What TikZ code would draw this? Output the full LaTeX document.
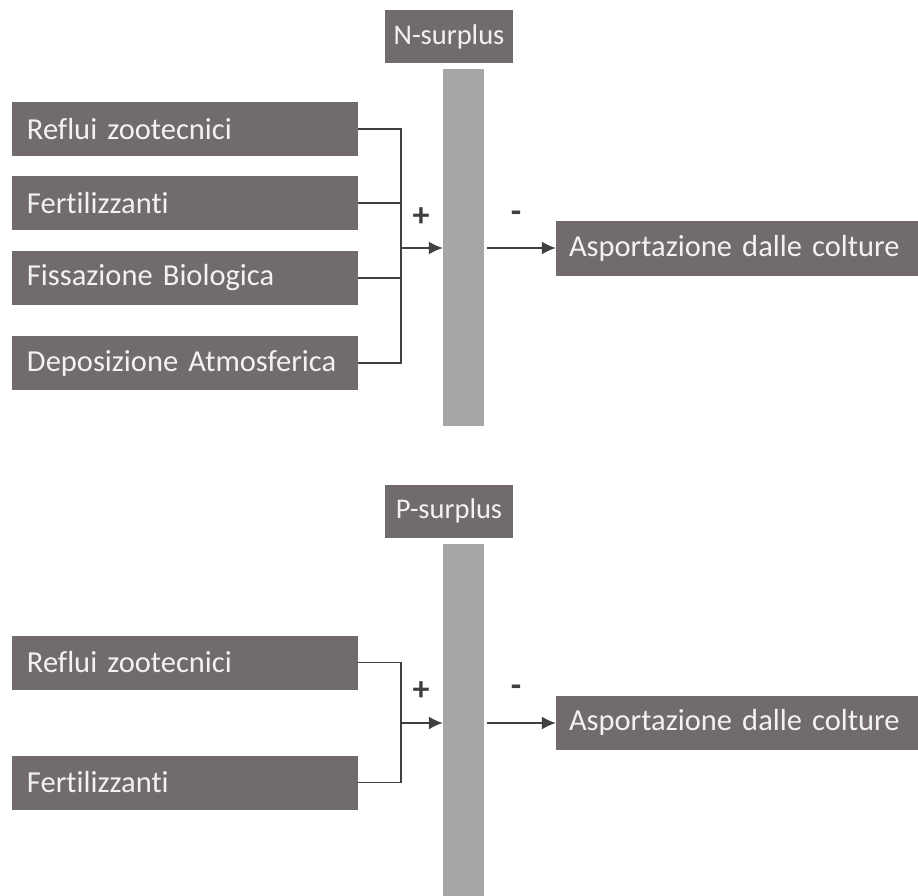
\documentclass[tikz,border=0pt]{standalone}
\usepackage{fontspec}
\setmainfont{Carlito}[WordSpace=1.25,Ligatures=NoCommon]
\usetikzlibrary{arrows.meta}

\definecolor{boxgray}{HTML}{716B6B}
\definecolor{bargray}{HTML}{A6A6A6}
\definecolor{linegray}{HTML}{404040}

\begin{document}
\begin{tikzpicture}[x=1pt,y=-1pt,
inbox/.style={rectangle,fill=boxgray,text=white!95!black,font=\fontsize{30.5}{34}\selectfont,
  minimum height=54pt,inner xsep=15pt,text width=316pt,align=left},
outbox/.style={inbox,text width=336pt,inner xsep=13pt},
surbox/.style={rectangle,fill=boxgray,text=white!95!black,font=\fontsize{28.5}{32}\selectfont,
  minimum width=128pt,minimum height=53pt},
bar/.style={rectangle,fill=bargray,minimum width=41pt},
sign/.style={font=\fontsize{34}{38}\selectfont\bfseries,text=linegray},
conn/.style={draw=linegray,line width=1.5pt},
flow/.style={conn,-{Latex[length=14pt,width=13pt]}}
]
\useasboundingbox (0,0) rectangle (918,896);

% N-surplus
\node[surbox] (nsur) at (449,37) {N-surplus};
\node[bar,minimum height=357pt] (nbar) at (463.5,247.5) {};
\node[inbox] (rn1) at (185,129) {Reflui zootecnici};
\node[inbox] (rn2) at (185,203) {Fertilizzanti};
\node[inbox] (rn3) at (185,278) {Fissazione Biologica};
\node[inbox] (rn4) at (185,363) {Deposizione Atmosferica};
\node[outbox] (nout) at (737,248.5) {Asportazione dalle colture};
\coordinate (nj) at (401,248);
\draw[conn] (rn1.east) -- (rn1.east -| nj) -- (rn4.east -| nj) -- (rn4.east);
\draw[conn] (rn2.east) -- (rn2.east -| nj);
\draw[conn] (rn3.east) -- (rn3.east -| nj);
\draw[flow] (nj) -- (nbar.west |- nj);
\draw[flow] ([xshift=3pt]nbar.east |- nj) -- (nout.west |- nj);
\node[sign] (nplus) at (421,217) {+};
\node[sign] (nminus) at (516,217) {-};

% P-surplus
\node[surbox] (psur) at (449,511) {P-surplus};
\node[bar,minimum height=352pt] (pbar) at (463.5,720) {};
\node[inbox] (rp1) at (185,662.5) {Reflui zootecnici};
\node[inbox] (rp2) at (185,782.5) {Fertilizzanti};
\node[outbox] (pout) at (737,722.5) {Asportazione dalle colture};
\coordinate (pj) at (401,723);
\draw[conn] (rp1.east) -- (rp1.east -| pj) -- (rp2.east -| pj) -- (rp2.east);
\draw[flow] (pj) -- (pbar.west |- pj);
\draw[flow] ([xshift=3pt]pbar.east |- pj) -- (pout.west |- pj);
\node[sign] (pplus) at (421,691) {+};
\node[sign] (pminus) at (516,691) {-};
\end{tikzpicture}
\end{document}
